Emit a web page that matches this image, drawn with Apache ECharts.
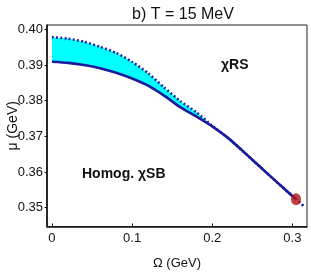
<!DOCTYPE html>
<html>
<head>
<meta charset="utf-8">
<script src="https://cdn.jsdelivr.net/npm/echarts@6/dist/echarts.min.js"></script>
<style>html,body{margin:0;padding:0;background:#fff;}#c{width:311px;height:273px;}</style>
</head>
<body>
<div id="c"></div>
<script>
// Band region (both boundaries share these Ω values)
var bandOmega = [0, 0.02, 0.04, 0.06, 0.08, 0.10, 0.12, 0.14, 0.16, 0.18, 0.20];
var bandLower = [0.3909, 0.3906, 0.3900, 0.3891, 0.3878, 0.3862, 0.3842, 0.3814, 0.3782, 0.3756, 0.3728];
var bandUpper = [0.3978, 0.3974, 0.3965, 0.3951, 0.3934, 0.3909, 0.3877, 0.3837, 0.3799, 0.3768, 0.3730];
// Solid line continuation beyond the band
var solidOmegaTail = [0.22, 0.24, 0.26, 0.28, 0.30, 0.3046];
var solidMuTail = [0.3695, 0.3655, 0.3614, 0.3573, 0.3533, 0.3524];
// Dotted line tail past the end point
var dottedOmegaTail = [0.31, 0.314];
var dottedMuTail = [0.3513, 0.3505];
// End point
var endPoint = [0.3046, 0.3524];
// Ticks
var xTicks = [0, 0.1, 0.2, 0.3];
var yTicks = [0.35, 0.36, 0.37, 0.38, 0.39, 0.40];

var navy = '#1b1b9e';
function zip(a, b) { return a.map(function (v, i) { return [v, b[i]]; }); }
var solidData = zip(bandOmega, bandLower).concat(zip(solidOmegaTail, solidMuTail));
var dottedData = zip(bandOmega, bandUpper).concat(zip(solidOmegaTail, solidMuTail)).concat(zip(dottedOmegaTail, dottedMuTail));
var bandData = zip(bandOmega, bandUpper).concat(zip(bandOmega, bandLower).reverse());

var chart = echarts.init(document.getElementById('c'), null, {renderer: 'canvas'});
var font = 'Liberation Sans, Arial, sans-serif';
chart.setOption({
  animation: false,
  title: {
    text: 'b) T = 15 MeV', left: 178, top: 2, textAlign: 'center',
    textStyle: {fontFamily: font, fontSize: 16, fontWeight: 'normal', color: '#111'}
  },
  grid: {left: 47, right: 4, top: 25, bottom: 46.5, show: true, borderColor: '#222', borderWidth: 1,
    outerBoundsMode: 'none', containLabel: false},
  xAxis: {
    type: 'value', min: -0.0062, max: 0.3183,
    name: 'Ω (GeV)', nameLocation: 'middle', nameGap: 30, nameMoveOverlap: false,
    nameTextStyle: {fontFamily: font, fontSize: 13, color: '#111'},
    axisLine: {show: true, onZero: false, lineStyle: {color: '#111', width: 1.6}},
    axisTick: {show: true, inside: true, length: 3, customValues: xTicks, lineStyle: {color: '#111'}},
    axisLabel: {customValues: xTicks, margin: 5, fontFamily: font, fontSize: 13, color: '#111',
      formatter: function (v) { return v === 0 ? '0' : String(Math.round(v * 10) / 10); }},
    splitLine: {show: false}
  },
  yAxis: {
    type: 'value', min: 0.34473, max: 0.40121,
    name: 'μ (GeV)', nameLocation: 'middle', nameGap: 34, nameRotate: 90, nameMoveOverlap: false,
    nameTextStyle: {fontFamily: font, fontSize: 14, color: '#111', verticalAlign: 'middle'},
    axisLine: {show: true, onZero: false, lineStyle: {color: '#111', width: 1.6}},
    axisTick: {show: true, inside: false, length: 2.5, customValues: yTicks, lineStyle: {color: '#111'}},
    axisLabel: {customValues: yTicks, margin: 4, fontFamily: font, fontSize: 13, color: '#111',
      formatter: function (v) { return v.toFixed(2); }},
    splitLine: {show: false}
  },
  series: [
    {type: 'custom', data: [[0, 0]], z: 1, silent: true,
      renderItem: function (params, api) {
        var pts = bandData.map(function (p) { return api.coord(p); });
        return {type: 'polygon', shape: {points: pts}, style: {fill: '#00ffff', stroke: null}};
      }},
    {type: 'line', data: dottedData, symbol: 'none', z: 2, smooth: 0.2,
      lineStyle: {color: navy, width: 2.6, type: [1.8, 2.4], cap: 'butt'}},
    {type: 'line', data: solidData, symbol: 'none', z: 3, smooth: 0.2, lineStyle: {color: navy, width: 2.6}},
    {type: 'scatter', data: [endPoint], symbol: 'circle', symbolSize: [10, 12], z: 4,
      itemStyle: {color: '#b01212'}}
  ],
  graphic: [
    {type: 'text', left: 221, top: 58, style: {text: 'χRS', font: 'bold 14px ' + font, fill: '#111'}},
    {type: 'text', left: 82, top: 167, style: {text: 'Homog. χSB', font: 'bold 14px ' + font, fill: '#111'}}
  ]
});
</script>
</body>
</html>
